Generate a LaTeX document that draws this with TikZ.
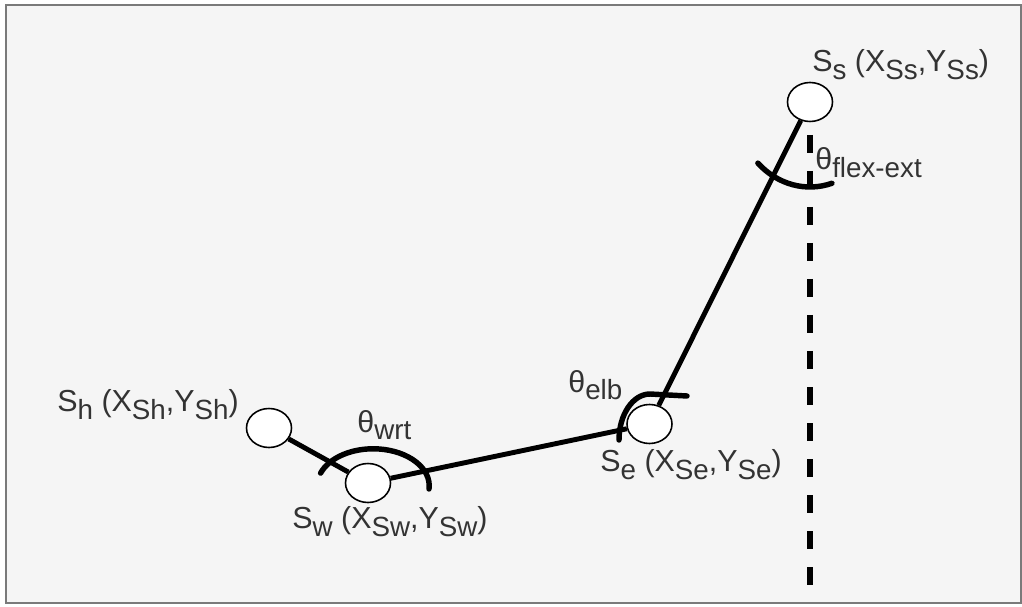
\documentclass[tikz,border=0pt]{standalone}
\usepackage{fontspec}
\setmainfont{Liberation Sans}
\usetikzlibrary{shapes.geometric}
\definecolor{bgcol}{HTML}{F5F5F5}
\definecolor{txtcol}{HTML}{333333}
\definecolor{frmcol}{HTML}{7A7A7A}
\newcommand{\lsub}[1]{\raisebox{-0.16cm}{\fontsize{15.8}{18}\selectfont #1}}

\begin{document}
\begin{tikzpicture}[
  jnt/.style={draw, ellipse, fill=white, line width=0.9pt, minimum width=0.9cm,
              minimum height=0.78cm, inner sep=0pt},
  seg/.style={line width=2.8pt},
  ang/.style={line width=3.1pt, line cap=round},
  lbl/.style={anchor=base west, inner sep=0pt, text=txtcol, font=\fontsize{17.3}{20}\selectfont},
]
\useasboundingbox (0,0) rectangle (20.44,12.12);
\draw[frmcol, fill=bgcol, line width=1.2pt] (0.12,0.06) rectangle (20.42,12.02);

% joints
\node[jnt] (ss) at (16.2,10.08) {};
\node[jnt] (se) at (12.99,3.64) {};
\node[jnt] (sw) at (7.36,2.46) {};
\node[jnt] (sh) at (5.38,3.56) {};

% segments
\draw[seg] (sh) -- (sw);
\draw[seg] (sw) -- (se);
\draw[seg] (se) -- (ss);

% vertical reference
\coordinate (vt) at (16.2,9.42);
\coordinate (vb) at (16.2,0.42);
\draw[line width=3pt, dash pattern=on 0.36cm off 0.36cm] (vt) -- (vb);

% angles
\draw[ang] (8.58,2.34) arc[start angle=-5, end angle=160, x radius=1.12, y radius=0.74];
\draw[ang] (12.38,3.32) arc[start angle=180, end angle=90, x radius=0.62, y radius=0.92] -- (13.74,4.20);
\draw[ang] (ss.center) ++(226:1.5cm and 1.7cm) arc[start angle=226, end angle=287, x radius=1.5, y radius=1.7];

% labels
\node[lbl] (lss) at (16.24,10.68) {S\lsub{s} (X\lsub{Ss},Y\lsub{Ss})};
\node[lbl] (lsh) at (1.14,3.90) {S\lsub{h} (X\lsub{Sh},Y\lsub{Sh})};
\node[lbl] (lsw) at (5.84,1.56) {S\lsub{w} (X\lsub{Sw},Y\lsub{Sw})};
\node[lbl] (lse) at (12.0,2.70) {S\lsub{e} (X\lsub{Se},Y\lsub{Se})};
\node[lbl] (twrt) at (7.14,3.48) {θ\lsub{wrt}};
\node[lbl] (telb) at (11.36,4.28) {θ\lsub{elb}};
\node[lbl] (tflx) at (16.3,8.72) {θ\lsub{flex-ext}};
\end{tikzpicture}
\end{document}
